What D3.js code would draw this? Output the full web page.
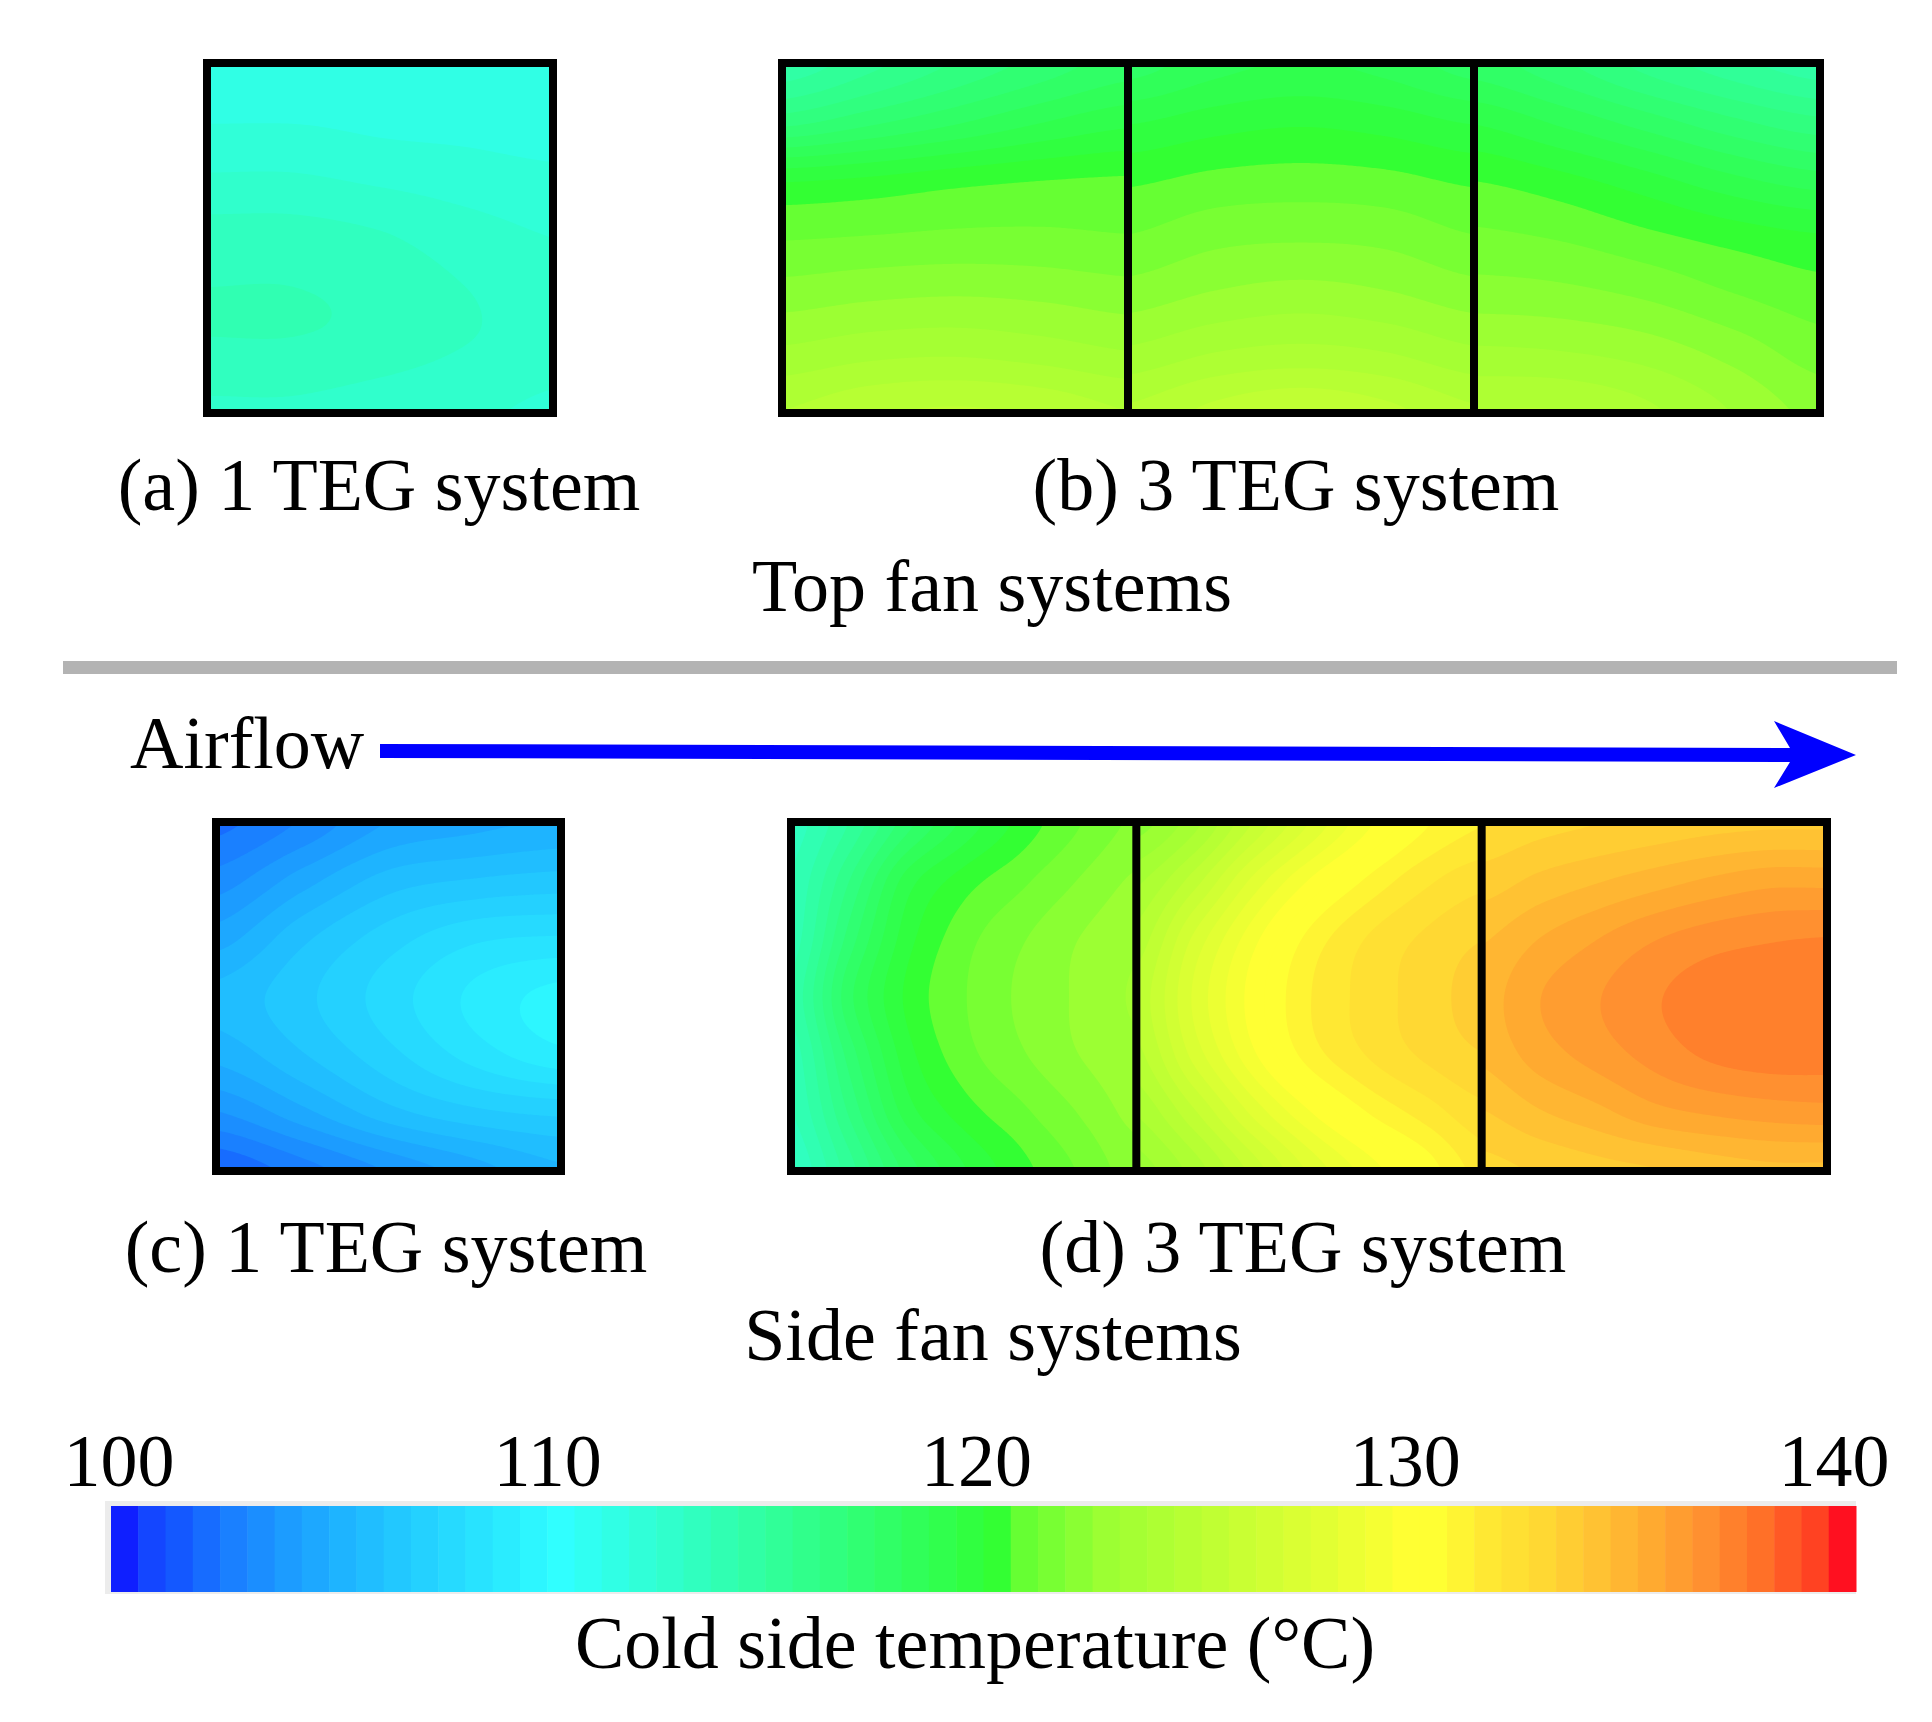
<!DOCTYPE html>
<head>
<meta charset="utf-8">
<script src="https://d3js.org/d3.v7.min.js"></script>
<style>
  body { margin: 0; background: #fff; }
  text { font-family: "Liberation Serif", "Times New Roman", serif; font-size: 74px; fill: #000; }
</style>
</head>
<body>
<script>
var width = 1932, height = 1722;

// colour bar: 64 discrete bands between 100 and 140 C
var tMin = 100, tMax = 140, nBands = 64;
var tickValues = [100, 110, 120, 130, 140];
var stopIdx = [0, 1, 2, 4, 6, 8, 10, 12, 14, 16, 24, 31, 32, 33, 36, 40, 44, 47, 48, 50, 52, 54, 56, 58, 60, 62, 63];
var stopCol = ["#0f1fff", "#1446ff", "#1458ff", "#1a80ff", "#1c9cff", "#1eb4ff", "#22c8ff", "#26daff", "#2aecff", "#30ffff",
               "#30ff98", "#30ff40", "#33ff33", "#66ff33", "#9cff33", "#c0ff33", "#e2ff33", "#ffff33", "#ffff33", "#ffe833",
               "#ffd833", "#ffc233", "#ffaa30", "#ff9030", "#ff7028", "#ff4222", "#ff1020"];

// cold side temperature (rows top -> bottom, columns left -> right)
var fieldA = [
  [111.3, 111.3, 111.4, 111.5, 111.5],
  [112.2, 112.2, 112.0, 111.9, 111.8],
  [113.4, 113.4, 113.2, 112.8, 112.5],
  [113.8, 113.8, 113.6, 113.2, 112.8],
  [113.0, 113.0, 112.8, 112.6, 112.4]
];
var fieldB1 = [
  [114.5, 115.4, 116.3, 117.1, 117.8],
  [116.6, 117.3, 118.0, 118.7, 119.2],
  [119.9, 120.1, 120.4, 120.6, 120.7],
  [121.2, 121.3, 121.4, 121.4, 121.3],
  [122.2, 122.4, 122.5, 122.4, 122.2],
  [123.3, 123.6, 123.7, 123.5, 123.2],
  [124.4, 124.9, 125.1, 124.9, 124.4]
];
var fieldB2 = [
  [117.8, 118.5, 118.8, 118.5, 117.8],
  [119.3, 119.7, 119.9, 119.7, 119.3],
  [120.5, 120.8, 120.9, 120.8, 120.5],
  [121.3, 121.7, 121.8, 121.7, 121.3],
  [122.2, 122.6, 122.8, 122.6, 122.2],
  [123.3, 123.8, 124.0, 123.8, 123.3],
  [124.5, 125.2, 125.6, 125.2, 124.5]
];
var fieldB3 = [
  [117.8, 117.0, 116.0, 115.2, 114.6],
  [119.3, 118.6, 117.8, 117.0, 116.4],
  [120.6, 120.2, 119.6, 118.9, 118.4],
  [121.4, 121.2, 120.8, 120.4, 120.1],
  [122.2, 122.1, 121.8, 121.3, 120.9],
  [123.3, 123.2, 122.9, 122.3, 121.6],
  [124.4, 124.4, 123.9, 123.1, 122.3]
];
var fieldC = [
  [102.3, 103.2, 104.4, 104.8, 105.1],
  [103.4, 104.7, 105.9, 106.3, 106.5],
  [104.7, 106.1, 107.2, 108.0, 108.2],
  [105.8, 106.7, 107.8, 108.9, 109.6],
  [105.2, 106.2, 107.3, 108.4, 109.2],
  [103.7, 104.8, 106.0, 106.7, 107.0],
  [101.9, 102.8, 103.8, 104.7, 105.5]
];
var fieldD1 = [
  [113.4, 115.0, 117.2, 118.9, 120.2, 121.2, 122.0],
  [113.8, 116.2, 119.0, 120.3, 121.1, 121.9, 122.6],
  [114.0, 117.1, 119.7, 121.0, 121.8, 122.5, 123.0],
  [114.5, 117.9, 120.1, 121.2, 122.0, 122.6, 123.2],
  [114.0, 117.1, 119.7, 121.0, 121.8, 122.5, 123.0],
  [113.7, 116.3, 119.0, 120.3, 121.1, 121.9, 122.7],
  [113.1, 115.3, 117.7, 119.3, 120.4, 121.3, 122.2]
];
var fieldD2 = [
  [122.2, 123.5, 125.6, 127.5, 129.2, 130.5, 131.2],
  [123.6, 125.3, 127.6, 129.4, 130.7, 131.7, 132.3],
  [124.6, 127.0, 129.1, 130.8, 131.9, 132.6, 133.1],
  [125.2, 127.6, 129.6, 131.2, 132.1, 132.8, 133.4],
  [124.8, 127.1, 129.2, 130.9, 131.9, 132.6, 133.1],
  [123.8, 125.5, 127.6, 129.3, 130.6, 131.5, 132.3],
  [122.8, 124.0, 125.8, 127.6, 129.0, 130.2, 131.5]
];
var fieldD3 = [
  [132.6, 132.9, 133.1, 133.3, 133.5, 133.6, 133.6],
  [133.4, 133.9, 134.3, 134.7, 135.1, 135.4, 135.4],
  [134.3, 135.0, 135.6, 136.2, 136.6, 136.8, 136.9],
  [134.7, 135.6, 136.2, 136.8, 137.2, 137.3, 137.4],
  [134.5, 135.3, 135.9, 136.5, 137.0, 137.2, 137.2],
  [133.7, 134.3, 134.8, 135.4, 135.7, 135.9, 136.0],
  [132.9, 133.2, 133.5, 133.7, 134.0, 134.2, 134.2]
];

var svg = d3.select("body").append("svg")
    .attr("width", width)
    .attr("height", height);
svg.append("rect").attr("width", width).attr("height", height).attr("fill", "#fff");

var step = (tMax - tMin) / nBands;
var thresholds = d3.range(nBands).map(function (i) { return tMin + i * step; });
var bandColor = d3.scaleLinear().domain(stopIdx).range(stopCol).interpolate(d3.interpolateRgb);
function colorOf(t) {
  var i = Math.max(0, Math.min(nBands - 1, Math.round((t - tMin) / step)));
  return bandColor(i);
}

// catmull-rom between coarse readings
function cubic(p0, p1, p2, p3, t) {
  return p1 + 0.5 * t * (p2 - p0 + t * (2 * p0 - 5 * p1 + 4 * p2 - p3 + t * (3 * (p1 - p2) + p3 - p0)));
}
function sample(g, u, v) {
  var rows = g.length, cols = g[0].length;
  var fx = u * (cols - 1), fy = v * (rows - 1);
  var ix = Math.min(Math.floor(fx), cols - 2), iy = Math.min(Math.floor(fy), rows - 2);
  var tx = fx - ix, ty = fy - iy;
  function at(r, c) {
    r = Math.max(0, Math.min(rows - 1, r));
    c = Math.max(0, Math.min(cols - 1, c));
    return g[r][c];
  }
  var col = [];
  for (var k = -1; k <= 2; k++) col.push(cubic(at(iy + k, ix - 1), at(iy + k, ix), at(iy + k, ix + 1), at(iy + k, ix + 2), tx));
  return cubic(col[0], col[1], col[2], col[3], ty);
}

function drawField(g, x0, y0, w, h) {
  var nx = Math.round(w / 2), ny = Math.round(h / 2);
  var vals = new Array(nx * ny);
  for (var j = 0; j < ny; j++)
    for (var i = 0; i < nx; i++)
      vals[j * nx + i] = sample(g, (i + 0.5) / nx, (j + 0.5) / ny);
  var cs = d3.contours().size([nx, ny]).thresholds(thresholds)(vals);
  svg.append("g")
    .attr("transform", "translate(" + x0 + "," + y0 + ") scale(" + (w / nx) + "," + (h / ny) + ")")
    .selectAll("path")
    .data(cs)
    .join("path")
    .attr("d", d3.geoPath())
    .attr("fill", function (d) { return colorOf(d.value); });
}

function drawPanel(fields, x, y, w, h) {
  var xs = d3.scaleLinear().domain([0, fields.length]).range([x, x + w]);
  fields.forEach(function (f, k) {
    drawField(f, xs(k), y, xs(k + 1) - xs(k), h);
  });
  svg.append("rect")
    .attr("x", x).attr("y", y).attr("width", w).attr("height", h)
    .attr("fill", "none").attr("stroke", "#000").attr("stroke-width", 8);
  d3.range(1, fields.length).forEach(function (k) {
    svg.append("line")
      .attr("x1", xs(k)).attr("x2", xs(k)).attr("y1", y).attr("y2", y + h)
      .attr("stroke", "#000").attr("stroke-width", 8);
  });
}

drawPanel([fieldA], 207, 63, 346, 350);
drawPanel([fieldB1, fieldB2, fieldB3], 782, 63, 1038, 350);
drawPanel([fieldC], 216, 822, 345, 349);
drawPanel([fieldD1, fieldD2, fieldD3], 791, 822, 1036, 349);

// labels
function label(s, x, y, anchor) {
  svg.append("text").attr("x", x).attr("y", y).attr("text-anchor", anchor || "middle").text(s);
}
label("(a) 1 TEG system", 379, 510);
label("(b) 3 TEG system", 1296, 510);
label("Top fan systems", 992, 611);
label("(c) 1 TEG system", 386, 1272);
label("(d) 3 TEG system", 1303, 1272);
label("Side fan systems", 993, 1360);

// separator
svg.append("rect").attr("x", 63).attr("y", 661).attr("width", 1834).attr("height", 13).attr("fill", "#b3b3b3");

// airflow arrow
label("Airflow", 130, 768, "start");
var p = d3.path();
p.moveTo(380, 744);
p.lineTo(1790, 748);
p.lineTo(1774, 721);
p.lineTo(1856, 755);
p.lineTo(1774, 788);
p.lineTo(1790, 762);
p.lineTo(380, 758);
p.closePath();
svg.append("path").attr("d", p.toString()).attr("fill", "#0000ff");

// colour bar
var cx = d3.scaleLinear().domain([tMin, tMax]).range([111, 1856]);
var lx = d3.scaleLinear().domain([tMin, tMax]).range([119, 1834]);
svg.append("rect").attr("x", 105).attr("y", 1501).attr("width", 1751).attr("height", 93).attr("fill", "#ececec");
svg.append("g").selectAll("rect")
  .data(d3.range(nBands))
  .join("rect")
  .attr("x", function (i) { return cx(tMin + i * step); })
  .attr("width", function (i) { return cx(tMin + (i + 1) * step) - cx(tMin + i * step) + 0.5; })
  .attr("y", 1506)
  .attr("height", 86)
  .attr("fill", function (i) { return bandColor(i); });
svg.append("g").selectAll("text")
  .data(tickValues)
  .join("text")
  .attr("x", function (d) { return lx(d); })
  .attr("y", 1486)
  .attr("text-anchor", "middle")
  .text(function (d) { return d; });
label("Cold side temperature (\u00B0C)", 975, 1668);
</script>
</body>
